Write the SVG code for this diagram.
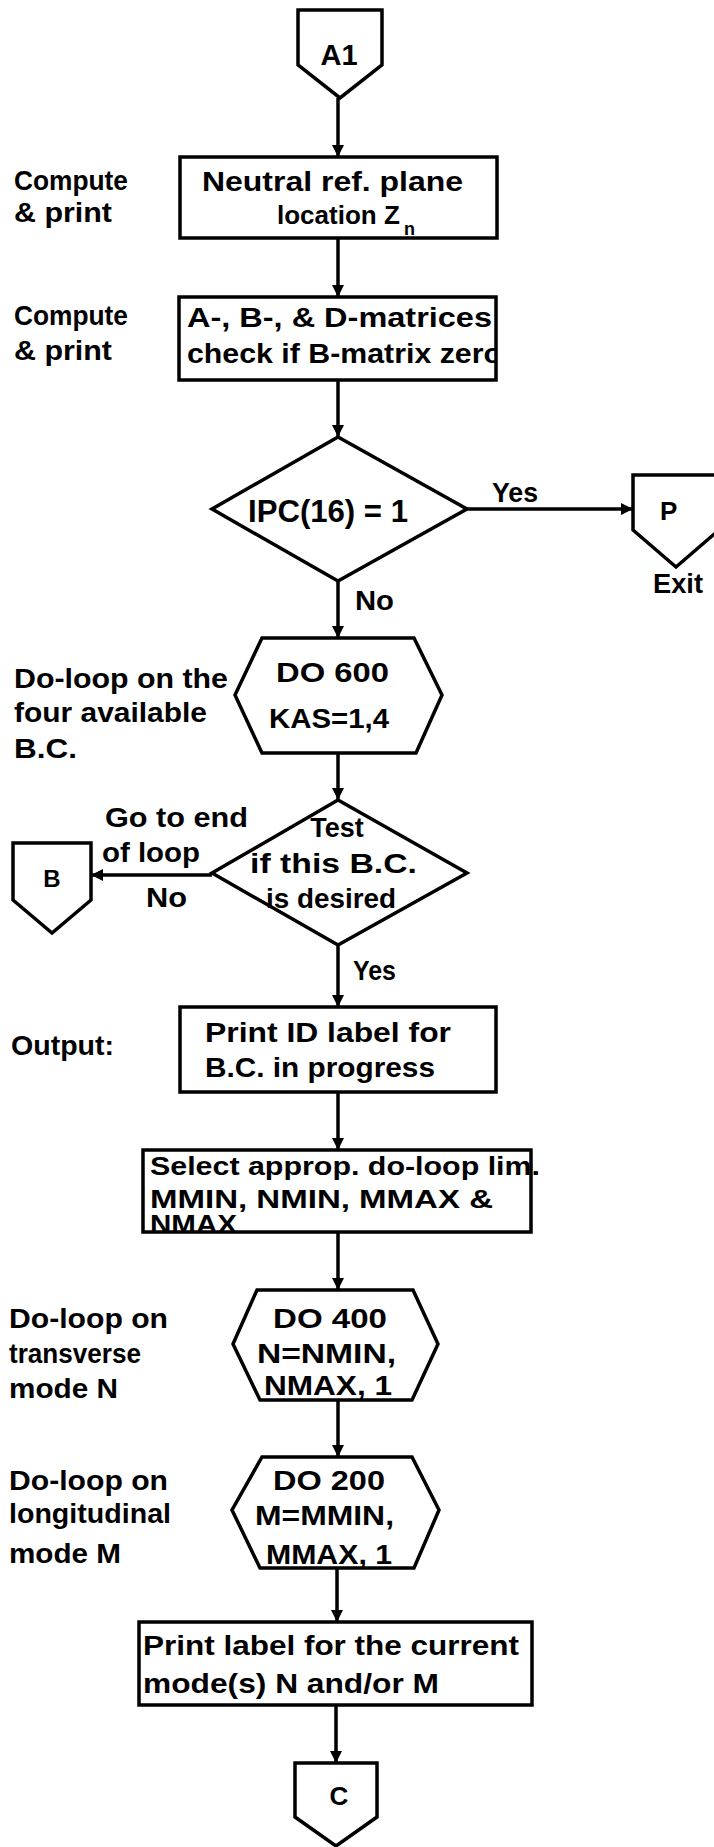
<svg xmlns="http://www.w3.org/2000/svg" width="714" height="1847" viewBox="0 0 714 1847">
<style>
.s{fill:#fff;stroke:#000;stroke-width:3.5;stroke-linejoin:miter}
.c{fill:none;stroke:#000;stroke-width:3.5}
text{font-family:"Liberation Sans",Arial,sans-serif;font-weight:bold;font-size:27px;fill:#000}
.big{font-size:32px}
.mid{font-size:25px}
.m{text-anchor:middle}
</style>
<defs>
<marker id="ah" markerUnits="userSpaceOnUse" markerWidth="14" markerHeight="14" viewBox="0 0 14 14" refX="13" refY="7" orient="auto">
<path d="M1,1 L13,7 L1,13 Z" fill="#000"/>
</marker>
</defs>
<rect width="714" height="1847" fill="#fff"/>
<g id="connectors">
<line class="c" x1="338" y1="98" x2="338" y2="157" marker-end="url(#ah)"/>
<line class="c" x1="338" y1="238" x2="338" y2="297" marker-end="url(#ah)"/>
<line class="c" x1="338" y1="380" x2="338" y2="437" marker-end="url(#ah)"/>
<line class="c" x1="467" y1="509" x2="633" y2="509" marker-end="url(#ah)"/>
<line class="c" x1="338" y1="581" x2="338" y2="638" marker-end="url(#ah)"/>
<line class="c" x1="338" y1="753" x2="338" y2="800" marker-end="url(#ah)"/>
<line class="c" x1="212" y1="875" x2="91" y2="875" marker-end="url(#ah)"/>
<line class="c" x1="338" y1="945" x2="338" y2="1007" marker-end="url(#ah)"/>
<line class="c" x1="338" y1="1092" x2="338" y2="1150" marker-end="url(#ah)"/>
<line class="c" x1="338" y1="1232" x2="338" y2="1290" marker-end="url(#ah)"/>
<line class="c" x1="338" y1="1400" x2="338" y2="1457" marker-end="url(#ah)"/>
<line class="c" x1="337" y1="1568" x2="337" y2="1622" marker-end="url(#ah)"/>
<line class="c" x1="336" y1="1705" x2="336" y2="1763" marker-end="url(#ah)"/>
<text x="492" y="502" textLength="46" lengthAdjust="spacingAndGlyphs">Yes</text>
<text x="355" y="610" textLength="39" lengthAdjust="spacingAndGlyphs">No</text>
<text x="105" y="827" textLength="143" lengthAdjust="spacingAndGlyphs">Go to end</text>
<text x="102" y="862" textLength="98" lengthAdjust="spacingAndGlyphs">of loop</text>
<text x="146" y="907" textLength="41" lengthAdjust="spacingAndGlyphs">No</text>
<text x="353" y="980" textLength="43" lengthAdjust="spacingAndGlyphs">Yes</text>
</g>
<g id="A1">
<polygon class="s" points="298,10 382,10 382,65 340,98 298,65"/>
<text class="m" x="339" y="65" style="font-size:29px">A1</text>
</g>
<g id="neutral">
<rect class="s" x="180" y="157" width="317" height="81"/>
<text x="202" y="191" textLength="261" lengthAdjust="spacingAndGlyphs">Neutral ref. plane</text>
<text x="277" y="224" style="font-size:26px">location Z</text>
<text x="404" y="235" style="font-size:18px">n</text>
<text x="14" y="190" textLength="114" lengthAdjust="spacingAndGlyphs">Compute</text>
<text x="14" y="222" textLength="98" lengthAdjust="spacingAndGlyphs">&amp; print</text>
</g>
<g id="matrices">
<text x="187" y="327" textLength="305" lengthAdjust="spacingAndGlyphs">A-, B-, &amp; D-matrices</text>
<text x="187" y="363" textLength="315" lengthAdjust="spacingAndGlyphs">check if B-matrix zero</text>
<rect x="496" y="290" width="20" height="100" fill="#fff"/>
<rect class="s" x="179" y="297" width="317" height="83" style="fill:none"/>
<text x="14" y="325" textLength="114" lengthAdjust="spacingAndGlyphs">Compute</text>
<text x="14" y="360" textLength="98" lengthAdjust="spacingAndGlyphs">&amp; print</text>
</g>
<g id="ipc">
<polygon class="s" points="338,437 467,509 338,581 212,509"/>
<text class="big" x="248" y="522" textLength="160" lengthAdjust="spacingAndGlyphs">IPC(16) = 1</text>
</g>
<g id="P">
<polygon class="s" points="633,475 719,475 719,530 676,567 633,530"/>
<text x="660" y="520" style="font-size:26px">P</text>
<text x="653" y="593" textLength="50" lengthAdjust="spacingAndGlyphs">Exit</text>
</g>
<g id="do600">
<polygon class="s" points="262,638 414,638 442,695 416,753 262,753 235,695"/>
<text x="276" y="682" textLength="113" lengthAdjust="spacingAndGlyphs">DO 600</text>
<text x="269" y="728" textLength="120" lengthAdjust="spacingAndGlyphs">KAS=1,4</text>
<text x="14" y="688" textLength="214" lengthAdjust="spacingAndGlyphs">Do-loop on the</text>
<text x="14" y="722" textLength="193" lengthAdjust="spacingAndGlyphs">four available</text>
<text x="14" y="758" textLength="63" lengthAdjust="spacingAndGlyphs">B.C.</text>
</g>
<g id="test">
<polygon class="s" points="338,800 467,873 338,945 212,873"/>
<text class="m" x="337" y="837">Test</text>
<text x="250" y="873" textLength="167" lengthAdjust="spacingAndGlyphs">if this B.C.</text>
<text x="266" y="908" textLength="130" lengthAdjust="spacingAndGlyphs">is desired</text>
</g>
<g id="B">
<polygon class="s" points="13,843 91,843 91,900 52,933 13,900"/>
<text class="m" x="52" y="887" style="font-size:24px">B</text>
</g>
<g id="printid">
<rect class="s" x="180" y="1007" width="316" height="85"/>
<text x="205" y="1042" textLength="246" lengthAdjust="spacingAndGlyphs">Print ID label for</text>
<text x="205" y="1077" textLength="230" lengthAdjust="spacingAndGlyphs">B.C. in progress</text>
<text x="11" y="1055" textLength="103" lengthAdjust="spacingAndGlyphs">Output:</text>
</g>
<g id="select">
<rect class="s" x="143" y="1150" width="388" height="82"/>
<text class="mid" x="150" y="1175" textLength="390" lengthAdjust="spacingAndGlyphs">Select approp. do-loop lim.</text>
<text class="mid" x="150" y="1208" textLength="343" lengthAdjust="spacingAndGlyphs">MMIN, NMIN, MMAX &amp;</text>
<text class="mid" x="150" y="1233" textLength="87" lengthAdjust="spacingAndGlyphs">NMAX</text>
</g>
<g id="do400">
<polygon class="s" points="257,1290 413,1290 438,1344 412,1400 260,1400 233,1344"/>
<text x="273" y="1328" textLength="114" lengthAdjust="spacingAndGlyphs">DO 400</text>
<text x="257" y="1363" textLength="139" lengthAdjust="spacingAndGlyphs">N=NMIN,</text>
<text x="264" y="1395" textLength="128" lengthAdjust="spacingAndGlyphs">NMAX, 1</text>
<text x="9" y="1328" textLength="159" lengthAdjust="spacingAndGlyphs">Do-loop on</text>
<text x="9" y="1363" textLength="132" lengthAdjust="spacingAndGlyphs">transverse</text>
<text x="9" y="1398" textLength="109" lengthAdjust="spacingAndGlyphs">mode N</text>
</g>
<g id="do200">
<polygon class="s" points="262,1457 412,1457 439,1510 414,1568 260,1568 232,1510"/>
<text x="273" y="1490" textLength="112" lengthAdjust="spacingAndGlyphs">DO 200</text>
<text x="255" y="1525" textLength="139" lengthAdjust="spacingAndGlyphs">M=MMIN,</text>
<text x="266" y="1564" textLength="126" lengthAdjust="spacingAndGlyphs">MMAX, 1</text>
<text x="9" y="1490" textLength="159" lengthAdjust="spacingAndGlyphs">Do-loop on</text>
<text x="9" y="1523" textLength="162" lengthAdjust="spacingAndGlyphs">longitudinal</text>
<text x="9" y="1563" textLength="112" lengthAdjust="spacingAndGlyphs">mode M</text>
</g>
<g id="printlabel">
<rect class="s" x="139" y="1622" width="393" height="83"/>
<text x="143" y="1655" textLength="376" lengthAdjust="spacingAndGlyphs">Print label for the current</text>
<text x="143" y="1693" textLength="296" lengthAdjust="spacingAndGlyphs">mode(s) N and/or M</text>
</g>
<g id="C">
<polygon class="s" points="295,1763 377,1763 377,1817 336,1846 295,1817"/>
<text class="m" x="339" y="1805" style="font-size:26px">C</text>
</g>
</svg>
